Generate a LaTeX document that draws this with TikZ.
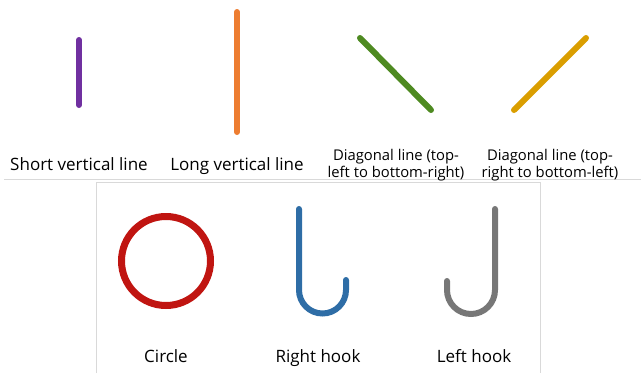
\documentclass[tikz,border=0pt]{standalone}
\usepackage{fontspec}
\setmainfont{Open Sans}
\definecolor{cpurple}{HTML}{7030A0}
\definecolor{corange}{HTML}{ED7D31}
\definecolor{cgreen}{HTML}{4E8A21}
\definecolor{cgold}{HTML}{DA9E00}
\definecolor{cred}{HTML}{C01511}
\definecolor{cblue}{HTML}{2E6DA6}
\definecolor{cgray}{HTML}{777777}
\definecolor{cframe}{HTML}{D9D9D9}
\begin{document}
\begin{tikzpicture}[x=1pt,y=-1pt,
  stroke/.style={line width=6pt,line cap=round},
  biglabel/.style={font=\fontsize{17}{20}\selectfont,inner sep=0pt,anchor=base},
  smalllabel/.style={font=\fontsize{14.8}{16.5}\selectfont,inner sep=0pt,align=center,anchor=north},
  frame/.style={draw=cframe,line width=0.8pt}]
\useasboundingbox (0,0) rectangle (641,373);
% separators
\draw[frame] (4,179.5) -- (641,179.5);
\draw[frame] (96,373) -- (96,182.5) -- (540,182.5) -- (540,373);
% top row shapes
\coordinate (p1) at (79,40); \coordinate (p2) at (79,105);
\draw[stroke,cpurple] (p1) -- (p2);
\coordinate (o1) at (237,12); \coordinate (o2) at (237,132);
\draw[stroke,corange] (o1) -- (o2);
\coordinate (g1) at (360,38); \coordinate (g2) at (431,110);
\draw[stroke,cgreen] (g1) -- (g2);
\coordinate (y1) at (586,38); \coordinate (y2) at (514,110);
\draw[stroke,cgold] (y1) -- (y2);
% top labels
\node[biglabel] (l1) at (79,170) {Short vertical line};
\node[biglabel] (l2) at (237,170) {Long vertical line};
\node[smalllabel] (l3) at (396,149.5) {Diagonal line (top-\\left to bottom-right)};
\node[smalllabel] (l4) at (550,149.5) {Diagonal line (top-\\right to bottom-left)};
% bottom row shapes
\node[draw=cred,line width=7pt,circle,minimum size=89pt,inner sep=0pt] (c) at (166,261) {};
\coordinate (r1) at (299,209);
\draw[stroke,cblue] (r1) -- (299,290) arc[start angle=180,end angle=0,radius=23.5] -- (346,280);
\coordinate (f1) at (495,209);
\draw[stroke,cgray] (f1) -- (495,290) arc[start angle=0,end angle=180,radius=24] -- (447,281);
% bottom labels
\node[biglabel] (b1) at (166,362) {Circle};
\node[biglabel] (b2) at (318,362) {Right hook};
\node[biglabel] (b3) at (474,362) {Left hook};
\end{tikzpicture}
\end{document}
